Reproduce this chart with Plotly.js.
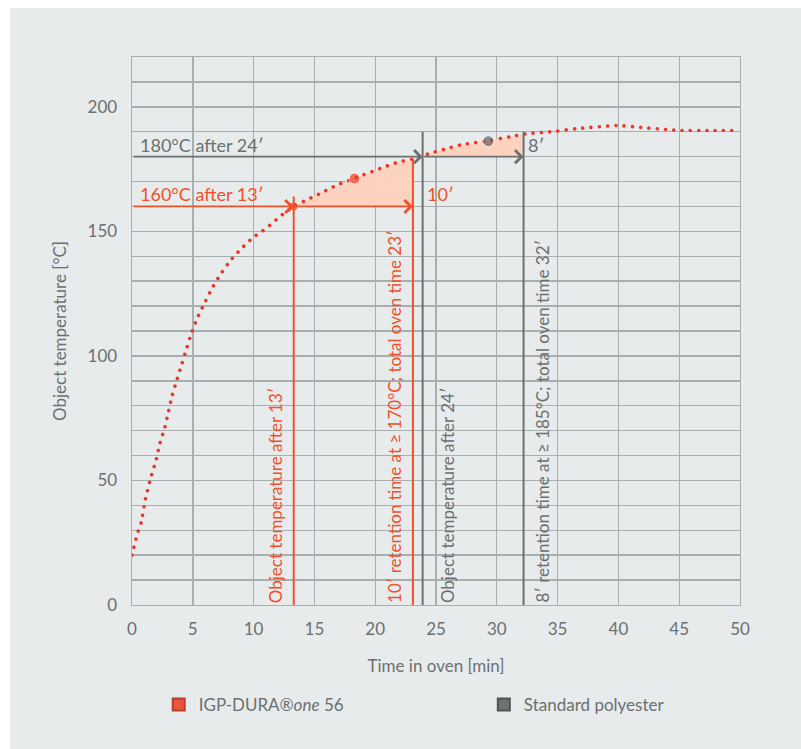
<!DOCTYPE html>
<html>
<head>
<meta charset="utf-8">
<script src="https://cdn.plot.ly/plotly-3.0.1.min.js"></script>
<style>
  html, body { margin: 0; padding: 0; background: #ffffff; }
  #chart { position: absolute; left: 10px; top: 8px; width: 791px; height: 741px; }
  .scatterlayer .js-line { stroke-linecap: round; }
</style>
</head>
<body>
<div id="chart"></div>
<script>
// ---- data ----
const timeMin = [0, 0.15, 0.3, 0.5, 0.75, 1.1, 1.6, 2.0, 2.3, 2.7, 3.0, 3.3, 3.7, 4.1, 4.5, 4.9, 5.4, 6.0, 6.6, 7.3, 8.1, 9.0, 10.0, 10.6, 11.1, 12.1, 13.3, 14.4, 15.6, 16.8, 18.3, 20.7, 21.9, 23.2, 24.5, 25.8, 27.1, 29.3, 31.1, 32.5, 34.5, 36.5, 39.2, 40.0, 41.9, 43.9, 45.2, 47.5, 50];
const objTemp = [20, 23, 26, 29.5, 33, 42.5, 52, 58.5, 65, 71.3, 77.6, 84, 90.5, 96.8, 103, 109.3, 115.5, 121.5, 127.3, 132.9, 138.3, 143.1, 147.7, 149.7, 151.5, 155.7, 160, 162.7, 165.5, 168.5, 171.3, 175.8, 177.8, 179.2, 181.3, 183.1, 184.8, 186.4, 188, 189.2, 190, 191.2, 192.3, 192.5, 191.7, 190.9, 190.5, 190.5, 190.5];

const seriesNames = ['IGP-DURA®<i>one</i> 56', 'Standard polyester'];
const levelTemp = [160, 180];          // horizontal threshold lines
const reachTime = [13.3, 23.9];        // time the level is reached
const endTime = [23.1, 32.2];          // end of retention time
const reachLineTop = [164, 190];       // top of the "reached" vertical lines
const endLineTop = [null, 190];        // null -> ends on the curve
const levelLabels = ['160°C after 13′', '180°C after 24′'];
const spanLabels = ['10′', '8′'];
const reachLabels = ['Object temperature after 13′', 'Object temperature after 24′'];
const endLabels = ['10′ retention time at ≥ 170°C; total oven time 23′', '8′ retention time at ≥ 185°C; total oven time 32′'];
const dotTime = [13.3, 18.3, 29.3];
const dotTemp = [160, 171.2, 186.2];
const dotSeries = [0, 0, 1];

const xTickVals = [0, 5, 10, 15, 20, 25, 30, 35, 40, 45, 50];
const yTickVals = [0, 50, 100, 150, 200];

// ---- styles ----
const RED = '#f0502a';
const GREY = '#6b7070';
const DOT = '#e8372b';
const FILL = '#fdd3bf';
const GRID = '#a9afaf';
const BG = '#e8ebec';
const FONT = 'Lato, "Open Sans", sans-serif';
const seriesColors = [RED, GREY];

function curveAt(t) {
  for (let i = 0; i < timeMin.length - 1; i++) {
    if (t >= timeMin[i] && t <= timeMin[i + 1]) {
      const f = (t - timeMin[i]) / (timeMin[i + 1] - timeMin[i]);
      return objTemp[i] + f * (objTemp[i + 1] - objTemp[i]);
    }
  }
  return objTemp[objTemp.length - 1];
}

const traces = [];
// retention fills
for (let s = 0; s < 2; s++) {
  const fx = [reachTime[s]], fy = [levelTemp[s]];
  for (let i = 0; i < timeMin.length; i++) {
    if (timeMin[i] > reachTime[s] && timeMin[i] < endTime[s]) { fx.push(timeMin[i]); fy.push(objTemp[i]); }
  }
  fx.push(endTime[s]); fy.push(curveAt(endTime[s]));
  fx.push(endTime[s]); fy.push(levelTemp[s]);
  traces.push({ x: fx, y: fy, type: 'scatter', mode: 'lines', fill: 'toself', fillcolor: FILL,
    line: { width: 0 }, hoverinfo: 'skip', showlegend: false });
}
// curve
traces.push({ x: timeMin, y: objTemp, type: 'scatter', mode: 'lines',
  line: { color: DOT, width: 3.6, dash: '0.01px,8.3px', shape: 'spline', smoothing: 0.6 },
  showlegend: false });

// shapes: vertical lines
const shapes = [];
for (let s = 0; s < 2; s++) {
  shapes.push({ type: 'line', xref: 'x', yref: 'y', x0: reachTime[s], x1: reachTime[s], y0: 0, y1: reachLineTop[s],
    line: { color: seriesColors[s], width: 2 } });
  shapes.push({ type: 'line', xref: 'x', yref: 'y', x0: endTime[s], x1: endTime[s], y0: 0,
    y1: endLineTop[s] === null ? curveAt(endTime[s]) : endLineTop[s],
    line: { color: seriesColors[s], width: 2 } });
}

// markers on the curve
traces.push({ x: dotTime, y: dotTemp, type: 'scatter', mode: 'markers',
  marker: { size: [9, 11, 11], color: dotSeries.map(s => s === 0 ? '#ee3b25' : '#5f6464') }, showlegend: false });

// legend entries (each in its own legend so they can sit far apart)
const legendIds = ['legend', 'legend2'];
for (let s = 0; s < 2; s++) {
  traces.push({ x: [null], y: [null], type: 'scatter', mode: 'markers', name: seriesNames[s], legend: legendIds[s],
    marker: { symbol: 'square', size: 12, color: s === 0 ? '#e8553e' : '#6d7272', line: { color: s === 0 ? '#b8402c' : '#505454', width: 1 } } });
}

const annotations = [];
const tf = (c, sz) => ({ family: FONT, size: sz || 17, color: c });
for (let s = 0; s < 2; s++) {
  const c = seriesColors[s];
  // arrows along the level line
  annotations.push({ x: reachTime[s], y: levelTemp[s], ax: 0, ay: levelTemp[s], axref: 'x', ayref: 'y', xref: 'x', yref: 'y',
    text: '', showarrow: true, arrowhead: 4, arrowsize: 1.4, arrowwidth: 1.8, arrowcolor: c, standoff: 0 });
  annotations.push({ x: endTime[s], y: levelTemp[s], ax: reachTime[s], ay: levelTemp[s], axref: 'x', ayref: 'y', xref: 'x', yref: 'y',
    text: '', showarrow: true, arrowhead: 4, arrowsize: 1.4, arrowwidth: 1.8, arrowcolor: c, standoff: 0 });
  // level label
  annotations.push({ x: 0, y: levelTemp[s], xref: 'x', yref: 'y', xanchor: 'left', yanchor: 'bottom', xshift: 6, yshift: -1,
    text: levelLabels[s], showarrow: false, font: tf(c, 18) });
  // span label
  annotations.push({ x: endTime[s], y: levelTemp[s], xref: 'x', yref: 'y', xanchor: 'left', yanchor: 'bottom',
    xshift: s === 0 ? 12 : 2, yshift: -1, text: spanLabels[s], showarrow: false, font: tf(c, 18) });
}
// rotated labels
annotations.push({ x: reachTime[0], y: 0, xref: 'x', yref: 'y', xanchor: 'right', yanchor: 'bottom', xshift: -6, yshift: 0,
  textangle: -90, text: reachLabels[0], showarrow: false, font: tf(RED) });
annotations.push({ x: endTime[0], y: 0, xref: 'x', yref: 'y', xanchor: 'right', yanchor: 'bottom', xshift: -6, yshift: 0,
  textangle: -90, text: endLabels[0], showarrow: false, font: tf(RED) });
annotations.push({ x: reachTime[1], y: 0, xref: 'x', yref: 'y', xanchor: 'left', yanchor: 'bottom', xshift: 12, yshift: 0,
  textangle: -90, text: reachLabels[1], showarrow: false, font: tf(GREY) });
annotations.push({ x: endTime[1], y: 0, xref: 'x', yref: 'y', xanchor: 'left', yanchor: 'bottom', xshift: 6, yshift: 0,
  textangle: -90, text: endLabels[1], showarrow: false, font: tf(GREY) });

const axisCommon = {
  showgrid: true, gridcolor: GRID, gridwidth: 1.4, zeroline: false,
  showline: true, mirror: true, linecolor: GRID, linewidth: 1.4,
  tickfont: { family: FONT, size: 17, color: GREY }, ticks: '', fixedrange: true
};

const legendCommon = { orientation: 'h', xref: 'container', yref: 'container', y: 0.0594, xanchor: 'left', yanchor: 'middle',
  font: { family: FONT, size: 17, color: GREY }, bgcolor: 'rgba(0,0,0,0)', itemsizing: 'constant' };

const layout = {
  width: 791, height: 741,
  paper_bgcolor: BG, plot_bgcolor: BG,
  margin: { l: 122, r: 61, t: 49, b: 144 },
  font: { family: FONT, color: GREY },
  xaxis: Object.assign({}, axisCommon, {
    range: [0, 50], tickvals: xTickVals, ticklabelstandoff: 8,
    title: { text: 'Time in oven [min]', font: { family: FONT, size: 17, color: GREY }, standoff: 22 }
  }),
  yaxis: Object.assign({}, axisCommon, {
    range: [0, 220], tickvals: yTickVals, ticklabelstandoff: 10,
    minor: { dtick: 10, showgrid: true, gridcolor: GRID, gridwidth: 1.4, ticks: '' },
    title: { text: 'Object temperature [°C]', font: { family: FONT, size: 17, color: GREY }, standoff: 16 }
  }),
  showlegend: true,
  legend: Object.assign({}, legendCommon, { x: 0.188 }),
  legend2: Object.assign({}, legendCommon, { x: 0.599 }),
  shapes: shapes,
  annotations: annotations
};

Plotly.newPlot('chart', traces, layout, { displayModeBar: false, staticPlot: true });
</script>
</body>
</html>
